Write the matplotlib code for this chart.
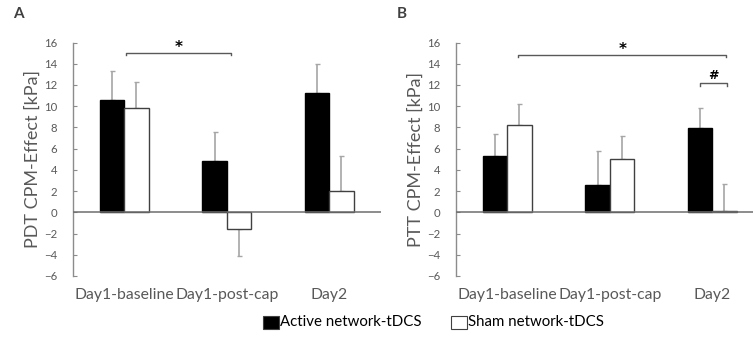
import matplotlib
matplotlib.use("Agg")
import matplotlib.pyplot as plt
from matplotlib.patches import Rectangle
import numpy as np

plt.rcParams['font.family'] = ['Lato', 'DejaVu Sans']

categories = ["Day1-baseline", "Day1-post-cap", "Day2"]
series_names = ["Active network-tDCS", "Sham network-tDCS"]

pdt_active = [10.6, 4.8, 11.25]
pdt_active_sd = [2.7, 2.8, 2.7]
pdt_sham = [9.85, -1.6, 2.0]
pdt_sham_sd = [2.4, 2.55, 3.35]

ptt_active = [5.35, 2.6, 7.95]
ptt_active_sd = [2.07, 3.18, 1.9]
ptt_sham = [8.27, 5.06, 0.15]
ptt_sham_sd = [1.9, 2.1, 2.5]

yticks = list(range(-6, 17, 2))

W, H = 753, 341
fig = plt.figure(figsize=(W / 100, H / 100), dpi=100)

GRAY_TXT = "#595959"
GRAY_AX = "#8c8c8c"
ERR = "#a6a6a6"
bw = 0.237


def px_axes(left, right, top_px, bottom_px):
    return fig.add_axes([left / W, (H - bottom_px) / H, (right - left) / W, (bottom_px - top_px) / H])


def panel(ax, act, act_sd, sham, sham_sd, ylabel, width_px):
    x = np.arange(len(categories))
    ax.set_xlim(-0.5, 2.5)
    ax.set_ylim(-6, 16)
    for vals, sds, off, fc, ec in [(act, act_sd, -bw / 2, "black", "black"),
                                   (sham, sham_sd, bw / 2, "white", "#404040")]:
        vals = np.array(vals)
        sds = np.array(sds)
        lower = np.where(vals < 0, sds, 0)
        upper = np.where(vals >= 0, sds, 0)
        ax.errorbar(x + off, vals, yerr=[lower, upper], fmt="none", ecolor=ERR,
                    elinewidth=1.2, capsize=1.8, capthick=1.0, zorder=1)
        ax.bar(x + off, vals, width=bw, color=fc, edgecolor=ec, linewidth=1.0, zorder=2)
    for s in ["top", "right", "bottom"]:
        ax.spines[s].set_visible(False)
    ax.spines["left"].set_color(GRAY_AX)
    ax.spines["left"].set_linewidth(1.0)
    ax.axhline(0, color="#6e6e6e", linewidth=1.1, zorder=3)
    ax.set_yticks(yticks)
    ax.tick_params(axis="y", direction="in", length=3, color=GRAY_AX, labelcolor=GRAY_TXT,
                   labelsize=8.2, pad=11.5)
    ax.set_xticks([])
    for i, c in enumerate(categories):
        ax.text(i, -0.08, c, transform=ax.get_xaxis_transform(), ha="center", va="center",
                color=GRAY_TXT, fontsize=11.3)
    ax.text(-40 / width_px, 0.5, ylabel, transform=ax.transAxes,
            rotation=90, ha="center", va="center", color=GRAY_TXT, fontsize=13.0)
    ax.patch.set_alpha(0)


def bracket(ax, x0, x1, y, label, fs=12, dy=0.6):
    d = 0.25
    ax.plot([x0, x0, x1, x1], [y - d, y, y, y - d], color=GRAY_TXT, linewidth=1.0,
            clip_on=False, zorder=4)
    ax.text((x0 + x1) / 2, y + dy, label, ha="center", va="center", fontsize=fs,
            color="black", fontweight="bold", family="DejaVu Sans")


axA = px_axes(73, 380.5, 42.5, 276)
panel(axA, pdt_active, pdt_active_sd, pdt_sham, pdt_sham_sd, "PDT CPM-Effect [kPa]", 307.5)
bracket(axA, 0.02, 1.04, 15.05, "*", fs=11, dy=0.45)

axB = px_axes(456, 763.5, 42.5, 276)
panel(axB, ptt_active, ptt_active_sd, ptt_sham, ptt_sham_sd, "PTT CPM-Effect [kPa]", 307.5)
bracket(axB, bw / 2 - 0.01, 2 + bw / 2 + 0.02, 14.85, "*", fs=11, dy=0.45)
bracket(axB, 1.88, 2.14, 12.15, "#", fs=9, dy=0.72)

fig.text(13 / W, 1 - 14 / H, "A", ha="left", va="center", fontsize=11, fontweight="bold", color="#404040")
fig.text(397 / W, 1 - 14 / H, "B", ha="left", va="center", fontsize=11, fontweight="bold", color="#404040")

# legend
leg_y = 322.5
for x0, fc, name in [(263, "black", series_names[0]), (451, "white", series_names[1])]:
    fig.patches.append(Rectangle((x0 / W, (H - leg_y - 6.5) / H), 15.5 / W, 13 / H,
                                 transform=fig.transFigure, facecolor=fc,
                                 edgecolor="#404040", linewidth=0.8))
    fig.text((x0 + 17) / W, 1 - leg_y / H, name, ha="left", va="center", fontsize=10.8,
             color="black")

fig.savefig("out.png", dpi=100)
